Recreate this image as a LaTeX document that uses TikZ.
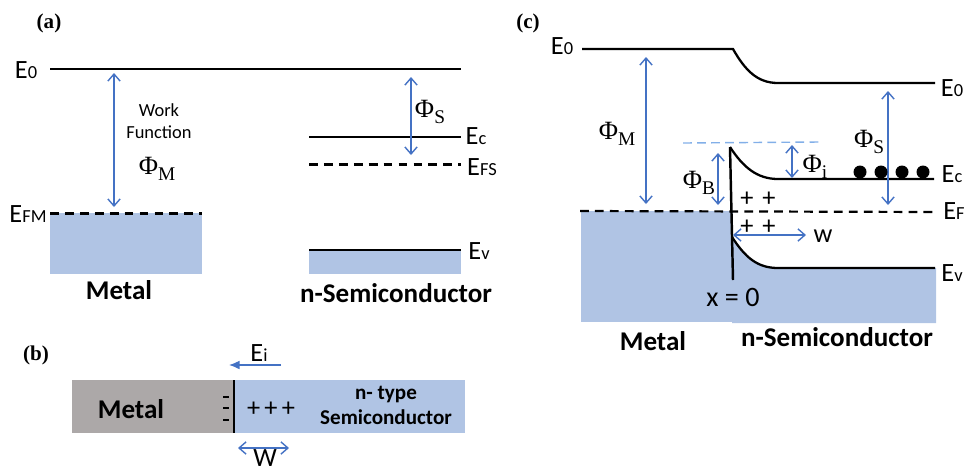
\documentclass[tikz,border=0pt]{standalone}
\usepackage{fontspec}
\setmainfont{Carlito}
\newfontfamily\figserif{Liberation Serif}
\usetikzlibrary{arrows.meta}
\definecolor{bandfill}{RGB}{176,196,228}
\definecolor{metalfill}{RGB}{172,168,168}
\definecolor{gapblue}{RGB}{68,114,196}
\definecolor{paleblue}{RGB}{130,175,232}
\newcommand{\lvl}[1]{E{\fontsize{10.5}{12}\selectfont #1}}
\newcommand{\wfn}[1]{{\figserif\fontsize{15}{17}\selectfont Φ\raisebox{-0.45ex}{\fontsize{11}{12}\selectfont #1}}}
\tikzset{
    bandline/.style={line width=1.3pt, black},
    fermiline/.style={line width=1.25pt, black, dash pattern=on 5pt off 3.5pt},
    gaparrow/.style={{Straight Barb[length=4pt,width=7pt]}-{Straight Barb[length=4pt,width=7pt]}, gapblue, line width=0.8pt},
    elabel/.style={font=\fontsize{15}{17}\selectfont, inner sep=0pt},
    title/.style={font=\fontsize{15.4}{17}\selectfont\bfseries, inner sep=0pt},
    panel/.style={font=\figserif\fontsize{12}{14}\selectfont\bfseries, inner sep=0pt},
    small/.style={font=\fontsize{10.5}{12}\selectfont, inner sep=0pt},
    smallbold/.style={font=\fontsize{12}{14}\selectfont\bfseries, inner sep=0pt},
    carrier/.style={circle, fill=black, inner sep=0pt, minimum size=7.4pt}
}
\begin{document}
\begin{tikzpicture}[x=0.02cm, y=-0.02cm]
        \useasboundingbox (0,0) rectangle (964,471);
        % (a)
        \fill [bandfill] (50,213) rectangle (202,274);
        \fill [bandfill] (309,250) rectangle (461,274);
        \draw [bandline] (50,69) -- (461,69);
        \draw [bandline] (309,137) -- (461,137);
        \draw [bandline] (309,250) -- (461,250);
        \draw [fermiline] (309,164.5) -- (461,164.5);
        \draw [fermiline] (50,213.5) -- (202,213.5);
        \draw [gaparrow] (114,73) -- (114,207);
        \draw [gaparrow] (411,77) -- (411,155);
        \node[panel] (labela) at (49,23) {(a)};
        \node[elabel] (evaca) at (26,70) {\lvl{0}};
        \node[elabel] (efma) at (28,214) {\lvl{FM}};
        \node[elabel] (eca) at (476,136) {\lvl{c}};
        \node[elabel] (efsa) at (482,167) {\lvl{FS}};
        \node[elabel] (eva) at (479,251) {\lvl{v}};
        \node[small] (worka) at (159,110) {Work};
        \node[small] (funca) at (159,132) {Function};
        \node (phima) at (157,169) {\wfn{M}};
        \node (phisa) at (430,112) {\wfn{S}};
        \node[title] (metala) at (119,290) {Metal};
        \node[title] (semia) at (396,293) {n-Semiconductor};
        % (b)
        \fill [metalfill] (72,380) rectangle (234,433);
        \fill [bandfill] (234,380) rectangle (465,433);
        \draw [line width=1.4pt] (234,380) -- (234,433);
        \foreach \y in {397, 408, 420}{
            \draw [line width=1.1pt] (223,\y) -- (229,\y);
        }
        \draw [-{Latex[length=6pt,width=5pt]}, gapblue, line width=0.7pt] (281,365) -- (229,365);
        \draw [gaparrow] (238,448) -- (289,448);
        \node[panel] (labelb) at (36,355) {(b)};
        \node[elabel] (eib) at (259,353) {\lvl{i}};
        \node[title] (metalb) at (131,409) {Metal};
        \node[elabel] (plusb) at (271,409) {+\hspace{2.4pt}+\hspace{2.4pt}+};
        \node[smallbold] (typeb) at (386,394) {n- type};
        \node[smallbold] (semib) at (386,417) {Semiconductor};
        \node[elabel] (wb) at (265,458) {W};
        % (c)
        \fill [bandfill] (581,211) rectangle (733,322);
        \fill [bandfill] (732,237) .. controls (745,257) and (757,268) .. (778,268) -- (936,268) -- (936,323) -- (732,323) -- cycle;
        \draw [bandline] (582,49) -- (733,49) .. controls (745,70) and (757,83) .. (778,83) -- (935,83);
        \draw [bandline] (730,147) .. controls (743,167) and (757,179) .. (778,179) -- (934,179);
        \draw [bandline] (732,237) .. controls (745,257) and (757,268) .. (778,268) -- (935,268);
        \draw [line width=1.4pt] (730,147) -- (733,280);
        \draw [fermiline] (580,211) -- (937,212);
        \draw [paleblue, line width=0.8pt, dash pattern=on 5pt off 3pt] (683,143) -- (820,142);
        \draw [gaparrow] (646,57) -- (646,204);
        \draw [gaparrow] (888,91) -- (888,205);
        \draw [gaparrow] (718,153) -- (718,205);
        \draw [gaparrow] (792,145) -- (792,178);
        \draw [gaparrow] (733,235) -- (806,235);
        \foreach \x in {860, 881, 902, 923}{
            \node[carrier] (dot\x) at (\x,172) {};
        }
        \node[panel] (labelc) at (528,23) {(c)};
        \node[elabel] (evacc) at (562,46) {\lvl{0}};
        \node[elabel] (evacr) at (952,88) {\lvl{0}};
        \node[elabel] (ecc) at (952,174) {\lvl{c}};
        \node[elabel, anchor=west] (efc) at (943,211) {\lvl{F}};
        \node[elabel] (evc) at (952,273) {\lvl{v}};
        \node (phimc) at (617,134) {\wfn{M}};
        \node (phisc) at (869,142) {\wfn{S}};
        \node (phibc) at (699,183) {\wfn{B}};
        \node (phiic) at (815,167) {\wfn{i}};
        \node[elabel] (plustop) at (758,199) {+\,\,+};
        \node[elabel] (plusbot) at (758,227) {+\,\,+};
        \node[elabel] (wc) at (823,236) {w};
        \node[elabel, font=\fontsize{16}{18}\selectfont] (xzero) at (733,297) {x = 0};
        \node[title] (metalc) at (653,341) {Metal};
        \node[title] (semic) at (837,337) {n-Semiconductor};
    \end{tikzpicture}
\end{document}
